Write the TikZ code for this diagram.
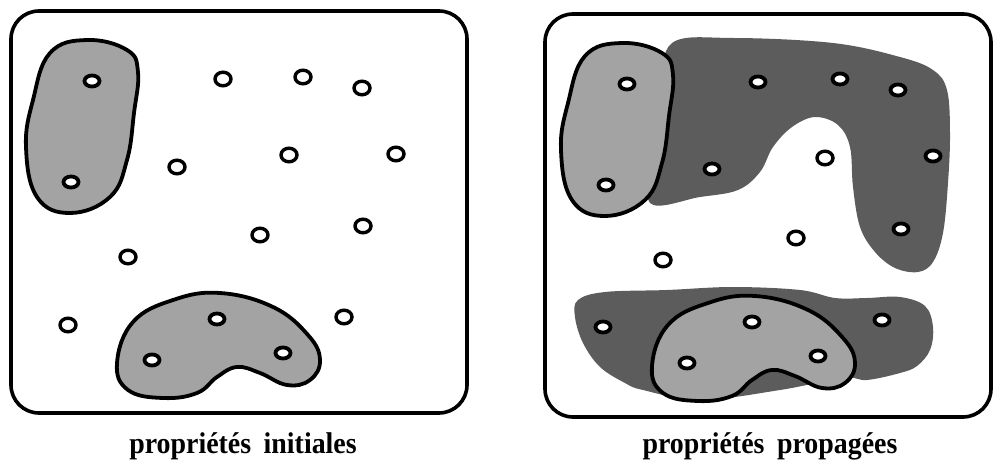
\documentclass[tikz,border=0pt]{standalone}
\usepackage{fontspec}
\setmainfont{Liberation Serif}
\begin{document}
\begin{tikzpicture}[x=1pt,y=-1pt,
  frame/.style={line width=3.6pt,rounded corners=28pt},
  lightblob/.style={fill=black!36,draw=black,line width=3.8pt},
  darkzone/.style={fill=black!64},
  pt/.style={fill=white,draw=black,line width=3.4pt},
  ptin/.style={fill=white,draw=black,line width=3.8pt},
  lbl/.style={font=\fontsize{30}{32}\selectfont\bfseries,anchor=base}]
\useasboundingbox (0,0) rectangle (994,465);
% ---- left frame ----
\draw[frame] (11,11) rectangle (467,413);
% ---- right frame ----
\draw[frame] (545,14) rectangle (991,417);
% ---- right: propagated dark zones ----
\fill[darkzone] plot[smooth cycle,tension=0.6] coordinates {
 (672,43) (733,38) (833,43) (900,57) (933,70) (947,90) (950,133) (948,183)
 (943,233) (933,262) (918,272) (895,268) (875,252) (860,227) (853,187)
 (850,147) (838,125) (815,117) (792,127) (773,147) (760,172) (738,190)
 (700,197) (650,203) (655,150) (662,90)};
\fill[darkzone] plot[smooth cycle,tension=0.6] coordinates {
 (578,300) (605,292) (667,290) (733,287) (800,290) (835,298) (867,298)
 (900,297) (925,306) (933,327) (930,350) (917,366) (900,373) (867,380)
 (843,378) (780,390) (700,400) (643,390) (625,383) (600,367) (583,343) (575,317)};
% ---- light blobs (left box, then right box) ----
\foreach \dx/\dy in {0/0,535/3}{
 \begin{scope}[shift={(\dx,\dy)}]
  \draw[lightblob] plot[smooth cycle,tension=0.7] coordinates {
   (50,53) (87,40) (127,50) (138,72) (134,113) (127,160) (110,197) (70,213)
   (37,197) (26,147) (33,100)};
  \draw[lightblob] plot[smooth cycle,tension=0.7] coordinates {
   (117,363) (133,322) (173,300) (220,293) (273,307) (308,335) (320,360)
   (310,380) (287,385) (260,373) (237,367) (217,377) (197,393) (163,398) (128,390)};
  \foreach \x/\y in {92/81,71/182,217/319,152/360,283/353}
   \draw[ptin] (\x,\y) ellipse (7.5 and 5.5);
 \end{scope}}
% ---- left box dots ----
\foreach \x/\y in {223/79,303/77,362/88,177/167,289/155,396/154,260/235,363/226,128/257,68/325,344/317}
 \draw[pt] (\x,\y) ellipse (8 and 6.8);
% ---- right box dots ----
\foreach \x/\y in {758/82,840/79,898/90,933/156,712/169,901/229,603/327,882/320}
 \draw[ptin] (\x,\y) ellipse (7.5 and 5.5);
\foreach \x/\y in {825/158,796/238,663/260}
 \draw[pt] (\x,\y) ellipse (8 and 6.8);
% ---- labels ----
\node[lbl] (lab1) at (243,453) {\scalebox{0.93}[1]{propriétés\hspace{0.45em}initiales}};
\node[lbl] (lab2) at (770,453) {\scalebox{0.93}[1]{propriétés\hspace{0.45em}propagées}};
\end{tikzpicture}
\end{document}
